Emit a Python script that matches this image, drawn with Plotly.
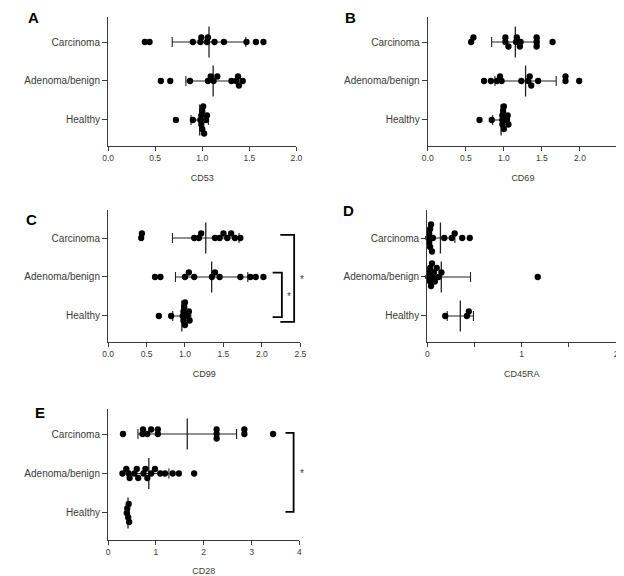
import numpy as np
import plotly.graph_objects as go

# ---------------- data ----------------
categories = ["Healthy", "Adenoma/benign", "Carcinoma"]

cd53_healthy = [0.72, 0.90, 0.98, 0.99, 0.99, 1.00, 1.00, 1.01, 1.02, 1.04, 1.05]
cd53_adenoma = [0.56, 0.66, 0.87, 1.06, 1.09, 1.12, 1.16, 1.31, 1.36, 1.38, 1.39, 1.43]
cd53_carcinoma = [0.39, 0.44, 0.90, 0.98, 0.99, 1.05, 1.06, 1.13, 1.23, 1.47, 1.57, 1.65]

cd69_healthy = [0.68, 0.84, 0.98, 0.98, 0.98, 0.99, 1.00, 1.00, 1.04, 1.05, 1.06]
cd69_adenoma = [0.74, 0.83, 0.91, 0.95, 0.97, 1.23, 1.32, 1.34, 1.36, 1.45, 1.81, 1.81, 1.99]
cd69_carcinoma = [0.57, 0.60, 1.02, 1.02, 1.06, 1.16, 1.17, 1.21, 1.22, 1.43, 1.43, 1.43, 1.64]

cd99_healthy = [0.66, 0.82, 0.97, 0.98, 0.98, 0.99, 1.00, 1.00, 1.03, 1.05, 1.06]
cd99_adenoma = [0.61, 0.68, 1.00, 1.05, 1.12, 1.35, 1.39, 1.45, 1.72, 1.85, 1.92, 2.02]
cd99_carcinoma = [0.43, 0.44, 1.12, 1.18, 1.21, 1.39, 1.45, 1.50, 1.55, 1.60, 1.65, 1.72]

cd45ra_healthy = [0.19, 0.42, 0.44]
cd45ra_adenoma = [0.01, 0.02, 0.03, 0.03, 0.04, 0.05, 0.06, 0.07, 0.08, 0.10, 0.12, 0.15, 1.17]
cd45ra_carcinoma = [0.01, 0.02, 0.02, 0.03, 0.03, 0.04, 0.05, 0.06, 0.18, 0.26, 0.29, 0.37, 0.45]

cd28_healthy = [0.39, 0.40, 0.42, 0.43, 0.44]
cd28_adenoma = [0.30, 0.38, 0.43, 0.45, 0.55, 0.60, 0.63, 0.74, 0.78, 0.82, 0.90, 0.98,
                1.09, 1.19, 1.35, 1.48, 1.80]
cd28_carcinoma = [0.31, 0.72, 0.73, 0.82, 0.90, 1.04, 1.04, 2.27, 2.27, 2.27, 2.85, 2.85, 3.45]

tick_053 = ["0.0", "0.5", "1.0", "1.5", "2.0"]
tick_0525 = ["0.0", "0.5", "1.0", "1.5", "2.0", "2.5"]
tick_d = ["0", "", "1", "", "2"]
tick_e = ["0", "1", "2", "3", "4"]

# ---------------- layout helpers ----------------
OFF = 8                      # default page body margin
W, H = 624 - OFF, 576 - OFF  # figure fills the window exactly
FONT = "Arial, Liberation Sans, sans-serif"
INK = "#222222"
AX = "#3a3a3a"


def fx(px):
    return (px - OFF) / W


def fy(py):
    return 1 - (py - OFF) / H


panels = [
    dict(letter="A", data=(cd53_healthy, cd53_adenoma, cd53_carcinoma), title="CD53",
         xpx=(104, 296), ypx=(17, 146), xr=(0, 2.0), yr=(-0.667, 2.641),
         tv=[0, 0.5, 1, 1.5, 2], tt=tick_053, lab=(28, 17)),
    dict(letter="B", data=(cd69_healthy, cd69_adenoma, cd69_carcinoma), title="CD69",
         xpx=(430, 624), ypx=(17, 146), xr=(0, 2.5), yr=(-0.667, 2.641),
         tv=[0, 0.5, 1, 1.5, 2, 2.5], tt=tick_0525, lab=(351, 17)),
    dict(letter="C", data=(cd99_healthy, cd99_adenoma, cd99_carcinoma), title="CD99",
         xpx=(104, 300), ypx=(210, 342), xr=(0, 2.5), yr=(-0.667, 2.718),
         tv=[0, 0.5, 1, 1.5, 2, 2.5], tt=tick_0525, lab=(26, 219)),
    dict(letter="D", data=(cd45ra_healthy, cd45ra_adenoma, cd45ra_carcinoma), title="CD45RA",
         xpx=(429.5, 622), ypx=(210, 342), xr=(0, 2.0), yr=(-0.667, 2.718),
         tv=[0, 0.5, 1, 1.5, 2], tt=tick_d, lab=(349, 210)),
    dict(letter="E", data=(cd28_healthy, cd28_adenoma, cd28_carcinoma), title="CD28",
         xpx=(104, 299), ypx=(409, 540), xr=(0, 4.0), yr=(-0.684, 2.633),
         tv=[0, 1, 2, 3, 4], tt=tick_e, lab=(35, 412)),
]


def swarm(vals, ppx, ppy, dmin=4.5, step=4.5):
    """Beeswarm: vertical offsets (category units) so dots stack like a Prism scatter."""
    vals = np.asarray(vals, float)
    order = np.argsort(vals, kind="stable")
    placed = []
    off = np.zeros(len(vals))
    for i in order:
        xp = vals[i] * ppx
        cand = 0.0
        for k in range(60):
            cand = 0.0 if k == 0 else ((k + 1) // 2) * step * (1 if k % 2 else -1)
            if all((xp - px) ** 2 + (cand - py) ** 2 >= dmin ** 2 - 1e-9 for px, py in placed):
                break
        placed.append((xp, cand))
        off[i] = cand / ppy
    return off


fig = go.Figure()
layout = dict(width=W, height=H, margin=dict(l=0, r=0, t=0, b=0),
              paper_bgcolor="white", plot_bgcolor="white", showlegend=False,
              font=dict(family=FONT, color=AX))
annotations = []

for n, p in enumerate(panels, start=1):
    xs = "" if n == 1 else str(n)
    xa, ya = "x" + xs, "y" + xs
    x0, x1 = p["xpx"]
    y0, y1 = p["ypx"]
    ppx = (x1 - x0) / (p["xr"][1] - p["xr"][0])
    ppy = (y1 - y0) / (p["yr"][1] - p["yr"][0])

    # mean +/- SD
    for gi, vals in enumerate(p["data"]):
        arr = np.asarray(vals, float)
        m, sd = arr.mean(), arr.std(ddof=1)
        fig.add_trace(go.Scatter(
            x=[m], y=[gi], xaxis=xa, yaxis=ya, mode="markers",
            marker=dict(symbol="line-ns-open", size=22, color=INK,
                        line=dict(color=INK, width=1.3)),
            error_x=dict(type="data", array=[sd], symmetric=True, width=5,
                         thickness=1.1, color=INK),
            hoverinfo="skip"))
    # dots
    for gi, vals in enumerate(p["data"]):
        off = swarm(vals, ppx, ppy)
        fig.add_trace(go.Scatter(
            x=list(vals), y=list(gi + off), xaxis=xa, yaxis=ya, mode="markers",
            cliponaxis=False,
            marker=dict(color="black", size=6.3, line=dict(width=0)),
            name=categories[gi]))

    layout["xaxis" + xs] = dict(
        domain=[fx(x0), min(fx(x1), 1.0)], range=list(p["xr"]), anchor=ya,
        showline=True, linecolor=AX, linewidth=1.3, ticks="outside", ticklen=4,
        tickwidth=1.2, tickcolor=AX, tickvals=p["tv"], ticktext=p["tt"],
        showgrid=False, zeroline=False, tickfont=dict(size=8.5, color=AX),
        title=dict(text=p["title"], font=dict(size=9, color=AX), standoff=12),
        fixedrange=True)
    layout["yaxis" + xs] = dict(
        domain=[fy(y1), fy(y0)], range=list(p["yr"]), anchor=xa,
        showline=True, linecolor=AX, linewidth=1.3, ticks="outside", ticklen=5,
        tickwidth=1.2, tickcolor=AX, tickvals=[0, 1, 2], ticktext=categories,
        showgrid=False, zeroline=False, tickfont=dict(size=10, color=AX),
        fixedrange=True)

    annotations.append(dict(text="<b>%s</b>" % p["letter"], x=fx(p["lab"][0]),
                            y=fy(p["lab"][1]), xref="paper", yref="paper",
                            showarrow=False, xanchor="center", yanchor="middle",
                            font=dict(size=15, color="black", family=FONT)))

# significance brackets
brk = dict(color="black", width=1.8)
shapes = [
    # C: Adenoma vs Healthy
    dict(type="path", xref="x3", yref="y3", line=brk,
         path="M 2.14 1.11 L 2.26 1.11 L 2.26 -0.03 L 2.14 -0.03"),
    # C: Carcinoma vs Healthy
    dict(type="path", xref="x3", yref="y3", line=brk,
         path="M 2.24 2.08 L 2.42 2.08 L 2.42 -0.15 L 2.24 -0.15"),
    # E: Carcinoma vs Healthy
    dict(type="path", xref="x5", yref="y5", line=brk,
         path="M 3.71 2.03 L 3.88 2.03 L 3.88 0.03 L 3.71 0.03"),
]
for (px, py) in [(288, 296), (302, 279), (302, 473)]:
    annotations.append(dict(text="*", x=fx(px), y=fy(py), xref="paper", yref="paper",
                            showarrow=False, xanchor="center", yanchor="middle",
                            font=dict(size=10, color=AX, family=FONT)))

layout["annotations"] = annotations
layout["shapes"] = shapes
fig.update_layout(**layout)
fig.write_html("out.html")
